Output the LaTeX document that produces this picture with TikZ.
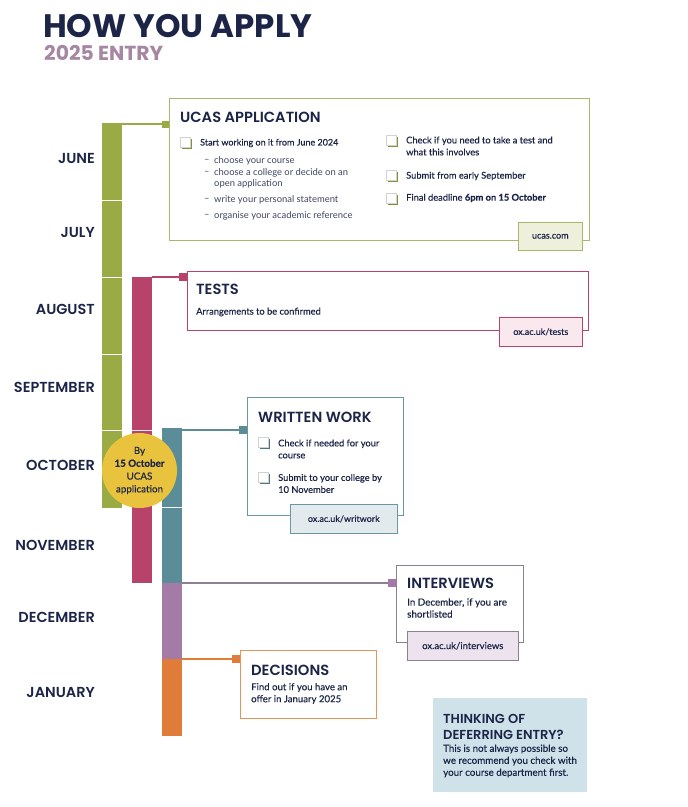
\documentclass[tikz,border=0pt]{standalone}
\usepackage{fontspec}
\setmainfont{Lato}
\newfontfamily\medfont{Lato}[FakeBold=0.35]
\newfontfamily\headfont{Poppins SemiBold}
\newfontfamily\titlefont{Poppins}
\usepackage{xcolor}
\usepackage{tikz}
\usetikzlibrary{positioning}

\definecolor{navy}{HTML}{1C2547}
\definecolor{mauve}{HTML}{A687A2}
\definecolor{olive}{HTML}{9AAB45}
\definecolor{oliveline}{HTML}{A9B66D}
\definecolor{olivetab}{HTML}{EEF0DB}
\definecolor{berry}{HTML}{B8436A}
\definecolor{berrytab}{HTML}{F9E8EE}
\definecolor{slate}{HTML}{5A8D97}
\definecolor{slateline}{HTML}{6D97A0}
\definecolor{slatetab}{HTML}{E2EAED}
\definecolor{plum}{HTML}{A47AA6}
\definecolor{plumline}{HTML}{8F7F95}
\definecolor{plumtab}{HTML}{EDE3EE}
\definecolor{amber}{HTML}{E07C3A}
\definecolor{amberline}{HTML}{E4935A}
\definecolor{sun}{HTML}{E9C23E}
\definecolor{sky}{HTML}{CFE2EA}

\begin{document}
\begin{tikzpicture}[
  x=1pt, y=-1pt,
  bar/.style={anchor=north west, inner sep=0, minimum width=20, draw=none},
  panel/.style={anchor=north west, inner sep=0, fill=white, line width=0.9pt},
  tab/.style={anchor=north west, inner sep=0, line width=0.6pt, text=navy, font=\medfont\fontsize{9}{10}\selectfont},
  head/.style={anchor=base west, inner sep=0, text=navy, font=\headfont\fontsize{14.7}{16}\selectfont},
  month/.style={anchor=base east, inner sep=0, text=navy, font=\headfont\fontsize{14.5}{16}\selectfont},
  body/.style={anchor=west, inner sep=0, align=left, text=navy, font=\medfont\fontsize{9.3}{12}\selectfont},
  sub/.style={anchor=west, inner sep=0, align=left, text=navy!85, font=\fontsize{9.4}{11.5}\selectfont},
  pin/.style={anchor=east, inner sep=0, minimum size=7, draw=none},
  link/.style={line width=2pt},
  notch/.style={draw=white, line width=0.9pt}
]
\useasboundingbox (0,0) rectangle (688,807);

% title
\node[anchor=base west, inner sep=0, text=navy, font=\titlefont\bfseries\fontsize{32.5}{34}\selectfont] (title) at (43,37) {HOW YOU APPLY};
\node[anchor=base west, inner sep=0, text=mauve, font=\titlefont\bfseries\fontsize{20.3}{22}\selectfont] (entry) at (44,60) {2025 ENTRY};

% months
\foreach \y/\m in {163/JUNE, 237/JULY, 314/AUGUST, 392/SEPTEMBER, 470/OCTOBER, 550/NOVEMBER, 622/DECEMBER, 697/JANUARY}{
  \node[month] (m-\m) at (95,\y) {\m};
}

% --- bars ---
\node[bar, fill=olive, minimum height=385] (ucasbar) at (102,123) {};
\node[bar, fill=berry, minimum height=306] (testbar) at (132,277) {};
\node[bar, fill=slate, minimum height=155] (workbar) at (162,428) {};
\node[bar, fill=plum, minimum height=76] (interviewbar) at (162,583) {};
\node[bar, fill=amber, minimum height=77] (decisionbar) at (162,659) {};
\foreach \y in {200,277,354,430}{
  \draw[notch] (102,\y) -- (122,\y);
}
\draw[notch, draw=berrytab] (132,430) -- (152,430);
\draw[notch] (162,507) -- (182,507);

% deadline badge
\node[circle, fill=sun, minimum size=75, inner sep=0, align=center, text=navy, font=\medfont\fontsize{9.8}{12.8}\selectfont] (deadlinedot) at (139.5,470.5) {By\\\textbf{15 October}\\UCAS\\application};

% --- UCAS application ---
\node[panel, draw=oliveline, minimum width=420, minimum height=142] (ucasbox) at (169,98) {};
\node[pin, fill=olive] (ucaspin) at (ucasbox.west |- 0,124) {};
\draw[link, olive] (ucasbar.east |- ucaspin) -- (ucaspin);
\foreach \x/\y in {180/137, 386/135, 386/170, 386/193}{
  \fill[olive!85!black] (\x+1.5,\y+1.5) rectangle ++(10,10);
  \filldraw[fill=white, draw=gray!35, line width=0.4pt] (\x,\y) rectangle ++(10,10);
}
\node[head] (ucashead) at (180,122) {UCAS APPLICATION};
\node[body, font=\medfont\fontsize{9}{12}\selectfont] (startitem) at (200,143) {Start working on it from June 2024};
\foreach \y/\t [count=\i] in {161/choose your course, 173/choose a college or decide on an, 184/open application, 200/write your personal statement, 216/organise your academic reference}{
  \node[sub] (ucassub\i) at (214,\y) {\t};
}
\foreach \y [count=\i] in {161,173,200,216}{
  \node[sub] (ucasdash\i) at (204,\y) {–};
}
\node[body] (testcheck) at (406,146) {Check if you need to take a test and\\what this involves};
\node[body] (submititem) at (406,176) {Submit from early September};
\node[body] (deadline) at (406,198) {Final deadline \textbf{6pm on 15 October}};
\node[tab, fill=olivetab, draw=oliveline, minimum width=64, minimum height=28] (ucastab) at (518,222) {ucas.com};

% --- tests ---
\node[panel, draw=berry, line width=0.7pt, minimum width=401, minimum height=59] (testbox) at (187,271) {};
\node[pin, fill=berry, minimum size=8] (testpin) at (testbox.west |- 0,277) {};
\draw[link, berry] (testbar.north east) -- (testpin);
\node[head] (testhead) at (196,294) {TESTS};
\node[body] (testnote) at (196,312) {Arrangements to be confirmed};
\node[tab, fill=berrytab, draw=berry, minimum width=83, minimum height=29] (testtab) at (499,317) {ox.ac.uk/tests};

% --- written work ---
\node[panel, draw=slateline, minimum width=156, minimum height=118] (workbox) at (247,397) {};
\node[pin, fill=slate, minimum size=8] (workpin) at (workbox.west |- 0,430) {};
\draw[link, slate] (workbar.east |- workpin) -- (workpin);
\foreach \y in {437,472}{
  \fill[slate!85!black] (259.5,\y+1.5) rectangle ++(10,10);
  \filldraw[fill=white, draw=gray!35, line width=0.4pt] (258,\y) rectangle ++(10,10);
}
\node[head] (workhead) at (258,422) {WRITTEN WORK};
\node[body] (workcheck) at (278,449) {Check if needed for your\\course};
\node[body] (worksubmit) at (278,483.5) {Submit to your college by\\10 November};
\node[tab, fill=slatetab, draw=slateline, minimum width=107, minimum height=29] (worktab) at (290,504) {ox.ac.uk/writwork};

% --- interviews ---
\node[panel, draw=plumline, minimum width=127, minimum height=77] (interviewbox) at (396,565) {};
\node[pin, fill=plum, minimum size=8] (interviewpin) at (interviewbox.west |- interviewbar.north) {};
\draw[link, plumline] (interviewbar.north east) -- (interviewpin);
\node[head] (interviewhead) at (407,588) {INTERVIEWS};
\node[body, font=\medfont\fontsize{9.8}{12}\selectfont] (interviewnote) at (407,608) {In December, if you are\\shortlisted};
\node[tab, fill=plumtab, draw=plumline, minimum width=111, minimum height=29, font=\medfont\fontsize{9.5}{10}\selectfont] (interviewtab) at (407,631) {ox.ac.uk/interviews};

% --- decisions ---
\node[panel, draw=amberline, minimum width=136, minimum height=68] (decisionbox) at (240,650) {};
\node[pin, fill=amber, minimum size=8] (decisionpin) at (decisionbox.west |- decisionbar.north) {};
\draw[link, amber] (decisionbar.north east) -- (decisionpin);
\node[head] (decisionhead) at (251,675) {DECISIONS};
\node[body, font=\medfont\fontsize{9.6}{12}\selectfont] (decisionnote) at (251,693.5) {Find out if you have an\\offer in January 2025};

% deferring note
\node[panel, fill=sky, draw=none, minimum width=154, minimum height=94] (deferbox) at (433,698) {};
\node[head, font=\headfont\fontsize{13}{14}\selectfont] (deferhead) at (443,723) {THINKING OF};
\node[head, font=\headfont\fontsize{13}{14}\selectfont] (deferhead2) at (443,739) {DEFERRING ENTRY?};
\node[body, font=\medfont\fontsize{9.8}{12}\selectfont] (defernote) at (443,761) {This is not always possible so\\we recommend you check with\\your course department first.};

\end{tikzpicture}
\end{document}
